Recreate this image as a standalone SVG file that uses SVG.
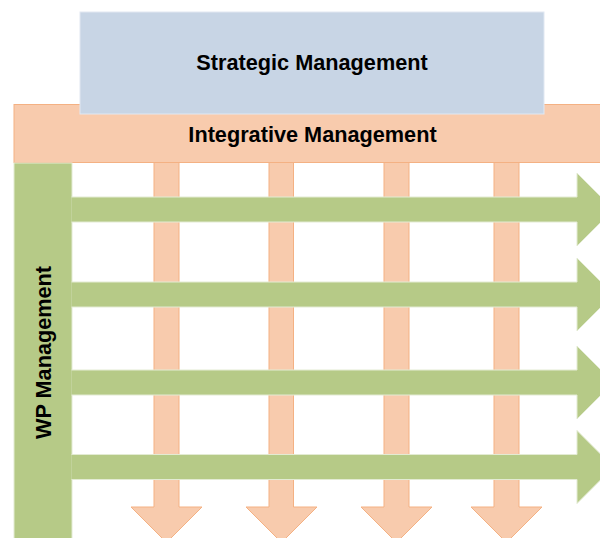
<svg xmlns="http://www.w3.org/2000/svg" width="600" height="538" viewBox="0 0 600 538">
  <style>
    .label { font-family: "Liberation Sans", Arial, sans-serif; font-weight: bold; font-size: 21.7px; fill: #000; }
    .orange { fill: #F8CBAD; stroke: #F4B183; stroke-width: 1; }
    .green { fill: #B6CA87; stroke: #E3EBD3; stroke-width: 1; }
  </style>
  <rect width="600" height="538" fill="#ffffff"/>

  <!-- downward work-flow arrows (behind everything else) -->
  <g id="connectors-down">
    <path class="orange" d="M154,158 H179 V507 H202 L166.5,542.5 L131,507 H154 Z"/>
    <path class="orange" d="M269,158 H293.5 V507 H317 L281.5,542.5 L246,507 H269 Z"/>
    <path class="orange" d="M384,158 H409 V507 H432 L396.5,542.5 L361,507 H384 Z"/>
    <path class="orange" d="M494,158 H519 V507 H542 L506.5,542.5 L471,507 H494 Z"/>
  </g>

  <!-- Integrative Management band -->
  <g id="integrative">
    <rect class="orange" x="14" y="104.5" width="600" height="58"/>
    <text class="label" x="312.5" y="141.5" text-anchor="middle">Integrative Management</text>
  </g>

  <!-- Strategic Management box -->
  <g id="strategic">
    <rect x="80" y="12" width="464" height="102" fill="#C8D5E5" stroke="#E1E8F2" stroke-width="1"/>
    <text class="label" x="312" y="69.5" text-anchor="middle">Strategic Management</text>
  </g>

  <!-- WP Management column -->
  <g id="wp">
    <rect class="green" x="14" y="163" width="58" height="380"/>
    <text class="label" transform="translate(50.5,352.5) rotate(-90)" text-anchor="middle">WP Management</text>
  </g>

  <!-- horizontal arrows leaving the WP column (left edge left open so they merge with it) -->
  <g id="connectors">
    <path class="green" d="M71.5,197 H577 V173 L613.5,209.5 L577,246 V222 H71.5"/>
    <path class="green" d="M71.5,282 H577 V258 L613.5,294.5 L577,331 V307 H71.5"/>
    <path class="green" d="M71.5,370 H577 V346 L613.5,382.5 L577,419 V395 H71.5"/>
    <path class="green" d="M71.5,454.5 H577 V430.5 L613.5,467 L577,503.5 V479.5 H71.5"/>
  </g>
</svg>
